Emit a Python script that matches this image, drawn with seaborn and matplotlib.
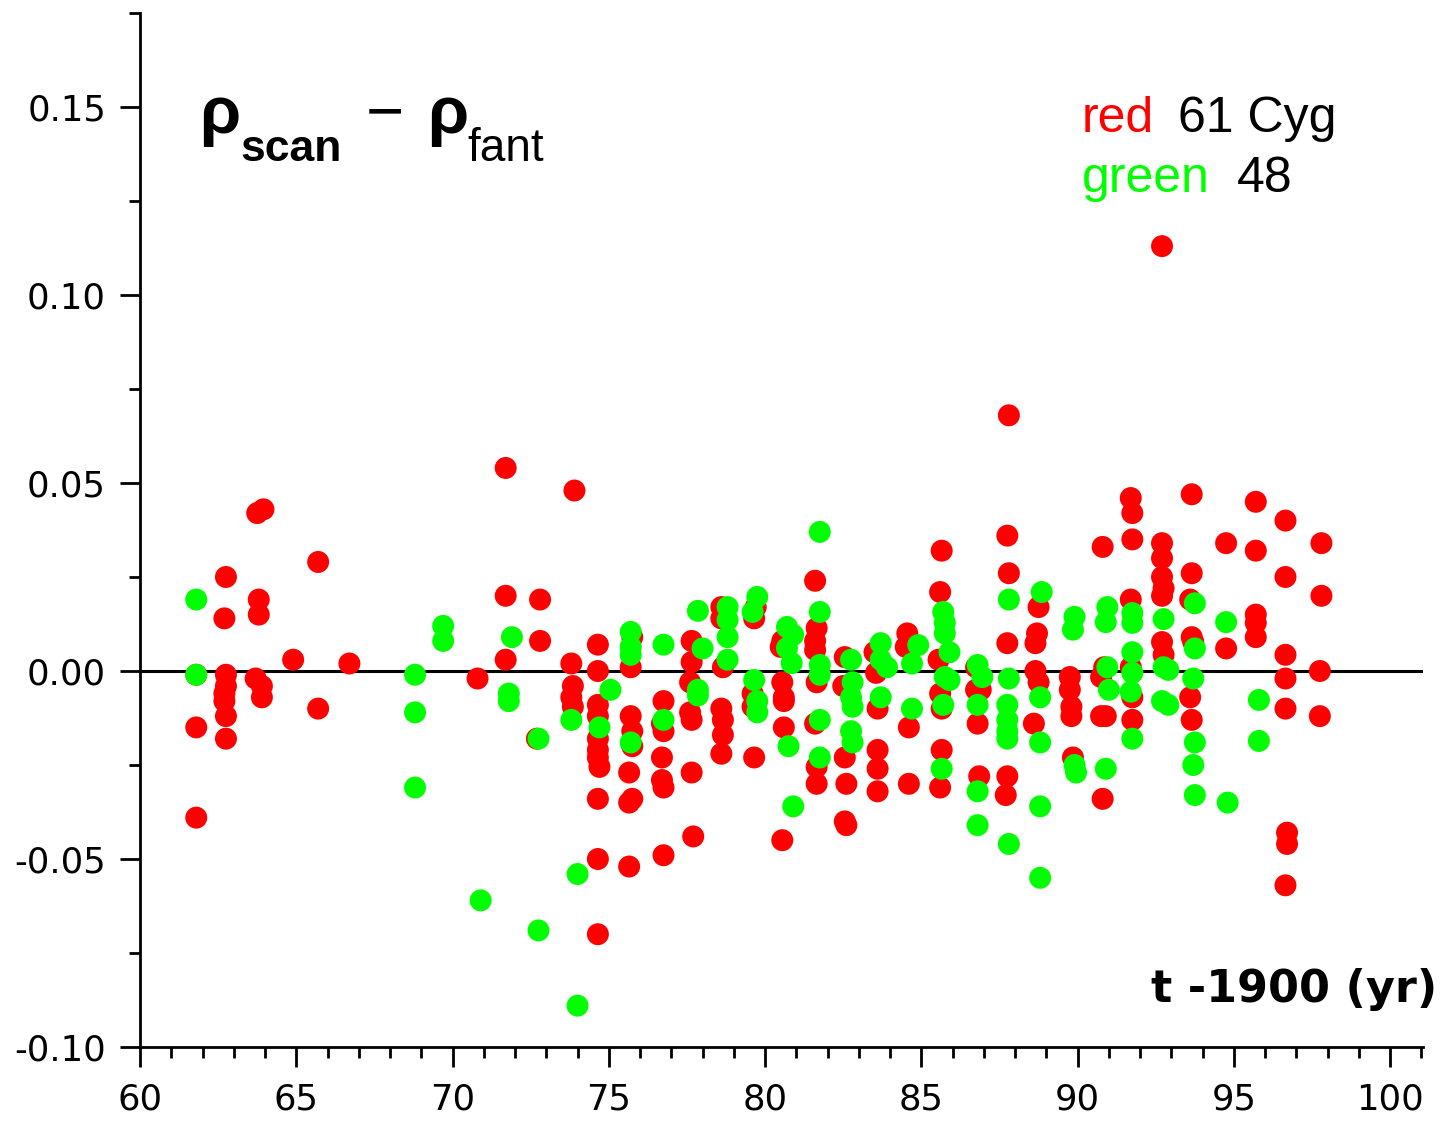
import numpy as np
import pandas as pd
import matplotlib
matplotlib.use("Agg")
import matplotlib.pyplot as plt
import seaborn as sns
from matplotlib.ticker import MultipleLocator, FormatStrFormatter

# ---------------- data ----------------
red_t = [61.8, 61.8, 61.8,
         62.75, 62.7, 62.75, 62.75, 62.7, 62.7, 62.75, 62.75,
         63.75, 63.95, 63.8, 63.8, 63.7, 63.9, 63.9,
         64.9, 65.7, 65.7, 66.7, 70.8,
         71.7, 71.7, 71.7,
         72.8, 72.8, 72.7,
         73.9, 73.8, 73.85, 73.8, 73.85,
         74.65, 74.65, 74.65, 74.65, 74.65, 74.65, 74.65, 74.7, 74.65, 74.65, 74.65,
         75.75, 75.7, 75.7, 75.75, 75.75, 75.65, 75.65, 75.75, 75.65,
         76.75, 76.7, 76.75, 76.7, 76.7, 76.75, 76.75,
         77.65, 77.65, 77.6, 77.6, 77.65, 77.65, 77.7,
         78.6, 78.6, 78.65, 78.6, 78.65, 78.65, 78.6,
         79.7, 79.65, 79.6, 79.6, 79.65,
         80.55, 80.5, 80.55, 80.6, 80.6, 80.6, 80.55,
         81.6, 81.65, 81.6, 81.6, 81.65, 81.6, 81.65, 81.65,
         82.55, 82.5, 82.55, 82.6, 82.55, 82.6,
         83.5, 83.55, 83.6, 83.6, 83.6, 83.6,
         84.55, 84.5, 84.6, 84.6,
         85.65, 85.6, 85.55, 85.6, 85.65, 85.65, 85.6,
         86.75, 86.75, 86.9, 86.8, 86.85,
         87.8, 87.75, 87.8, 87.75, 87.75, 87.7,
         88.75, 88.7, 88.65, 88.65, 88.75, 88.6,
         89.75, 89.75, 89.8, 89.8, 89.85,
         90.8, 90.85, 90.75, 90.75, 90.9, 90.8,
         91.7, 91.75, 91.75, 91.7, 91.7, 91.75, 91.75,
         92.7, 92.7, 92.7, 92.7, 92.75, 92.7, 92.7, 92.75,
         93.65, 93.65, 93.6, 93.65, 93.7, 93.6, 93.65,
         94.75, 94.75,
         95.7, 95.7, 95.7, 95.7, 95.7,
         96.65, 96.65, 96.65, 96.65, 96.65, 96.7, 96.7, 96.65,
         97.8, 97.8, 97.75, 97.75]
red_d = [-0.001, -0.015, -0.039,
         0.025, 0.014, -0.001, -0.004, -0.006, -0.008, -0.012, -0.018,
         0.042, 0.043, 0.019, 0.015, -0.002, -0.004, -0.007,
         0.003, 0.029, -0.010, 0.002, -0.002,
         0.054, 0.020, 0.003,
         0.019, 0.008, -0.018,
         0.048, 0.002, -0.004, -0.007, -0.0095,
         0.007, 0.000, -0.009, -0.012, -0.018, -0.021, -0.023, -0.0255, -0.034, -0.050, -0.070,
         0.009, 0.001, -0.012, -0.016, -0.020, -0.027, -0.035, -0.034, -0.052,
         -0.008, -0.014, -0.016, -0.023, -0.029, -0.031, -0.049,
         0.008, 0.0024, -0.003, -0.011, -0.013, -0.027, -0.044,
         0.017, 0.014, 0.001, -0.010, -0.013, -0.017, -0.022,
         0.017, 0.014, -0.006, -0.0095, -0.023,
         0.008, 0.0064, -0.003, -0.007, -0.008, -0.015, -0.045,
         0.024, 0.0114, 0.008, 0.0056, -0.003, -0.014, -0.0255, -0.030,
         0.0037, -0.004, -0.023, -0.030, -0.040, -0.041,
         0.005, -0.0005, -0.010, -0.021, -0.026, -0.032,
         0.010, 0.0064, -0.015, -0.030,
         0.032, 0.021, 0.003, -0.006, -0.010, -0.021, -0.031,
         0.001, -0.005, -0.005, -0.014, -0.028,
         0.068, 0.036, 0.026, 0.0074, -0.028, -0.033,
         0.017, 0.010, 0.0074, 0.000, -0.003, -0.014,
         -0.0016, -0.005, -0.0095, -0.012, -0.023,
         0.033, 0.001, -0.0016, -0.012, -0.012, -0.034,
         0.046, 0.042, 0.035, 0.019, 0.001, -0.007, -0.013,
         0.113, 0.034, 0.030, 0.025, 0.022, 0.020, 0.0077, 0.0043,
         0.047, 0.026, 0.019, 0.009, 0.0077, -0.007, -0.013,
         0.034, 0.006,
         0.045, 0.032, 0.015, 0.0128, 0.009,
         0.040, 0.025, 0.0043, -0.002, -0.010, -0.043, -0.046, -0.057,
         0.034, 0.020, 0.000, -0.012]

green_t = [61.8, 61.8,
           68.8, 68.8, 68.8,
           69.7, 69.7,
           70.9,
           71.9, 71.8, 71.8,
           72.75, 72.75,
           73.8,
           74.0, 74.0,
           74.7, 75.05,
           75.7, 75.7, 75.7, 75.7,
           76.75, 76.75,
           77.85, 78.0, 77.85, 77.85,
           78.8, 78.8, 78.8, 78.8,
           79.75, 79.6, 79.65, 79.75, 79.75,
           80.7, 80.9, 80.7, 80.85, 80.75, 80.9,
           81.75, 81.75, 81.75, 81.75, 81.75, 81.75,
           82.75, 82.8, 82.75, 82.8, 82.75, 82.8,
           83.7, 83.7, 83.9, 83.7,
           84.9, 84.7, 84.7,
           85.7, 85.75, 85.75, 85.9, 85.75, 85.9, 85.7, 85.65,
           86.8, 86.95, 86.8, 86.8, 86.8,
           87.8, 87.8, 87.75, 87.75, 87.75, 87.75, 87.8,
           88.85, 88.8, 88.8, 88.8, 88.8,
           89.9, 89.85, 89.9, 89.95,
           90.95, 90.9, 90.95, 91.0, 90.9,
           91.75, 91.75, 91.75, 91.75, 91.7, 91.75,
           92.75, 92.75, 92.9, 92.7, 92.9,
           93.75, 93.75, 93.7, 93.75, 93.7, 93.75,
           94.75, 94.8,
           95.8, 95.8]
green_d = [0.019, -0.001,
           -0.001, -0.011, -0.031,
           0.012, 0.008,
           -0.061,
           0.009, -0.006, -0.008,
           -0.018, -0.069,
           -0.013,
           -0.054, -0.089,
           -0.015, -0.005,
           0.0104, 0.0064, 0.0043, -0.019,
           0.007, -0.013,
           0.016, 0.006, -0.005, -0.0065,
           0.017, 0.0136, 0.009, 0.003,
           0.0197, 0.0157, -0.0024, -0.008, -0.011,
           0.0117, 0.0096, 0.0061, 0.0021, -0.020, -0.036,
           0.037, 0.0157, 0.0016, -0.001, -0.013, -0.023,
           0.003, -0.003, -0.007, -0.0095, -0.016, -0.019,
           0.0074, 0.003, 0.001, -0.007,
           0.0069, 0.002, -0.010,
           0.0157, 0.0128, 0.010, 0.005, -0.0016, -0.0024, -0.009, -0.026,
           0.0016, -0.0016, -0.009, -0.032, -0.041,
           0.019, -0.002, -0.009, -0.013, -0.016, -0.018, -0.046,
           0.021, -0.007, -0.019, -0.036, -0.055,
           0.0144, 0.011, -0.025, -0.027,
           0.017, 0.013, 0.001, -0.005, -0.026,
           0.0154, 0.0128, 0.005, -0.0005, -0.0055, -0.018,
           0.0138, 0.001, 0.0003, -0.008, -0.009,
           0.018, 0.006, -0.002, -0.019, -0.025, -0.033,
           0.013, -0.035,
           -0.0077, -0.0186]

series_names = ["61 Cyg", "48"]
series_colors = ["#ff0000", "#00ff00"]
x_ticks = [60, 65, 70, 75, 80, 85, 90, 95, 100]
y_ticks = [-0.10, -0.05, 0.00, 0.05, 0.10, 0.15]

# ---------------- figure ----------------
sns.set_style("ticks")
plt.rcParams["font.family"] = ["DejaVu Sans"]
plt.rcParams["text.color"] = "black"

W, H = 1445, 1121
fig = plt.figure(figsize=(W / 100, H / 100), dpi=100)
fig.patch.set_facecolor("white")
ax = fig.add_axes([140 / W, (H - 1047) / H, (1423 - 140) / W, (1047 - 13) / H])
ax.set_facecolor("white")

df = pd.DataFrame({
    "t": red_t + green_t,
    "d": red_d + green_d,
    "star": [series_names[0]] * len(red_t) + [series_names[1]] * len(green_t),
})

ax.axhline(0, color="black", lw=2.2, zorder=2)
sns.scatterplot(data=df, x="t", y="d", hue="star", hue_order=series_names,
                palette=dict(zip(series_names, series_colors)),
                s=250, linewidth=0, edgecolor="none", alpha=1,
                legend=False, ax=ax, zorder=3)

ax.set_xlim(60, 101.05)
ax.set_ylim(-0.10, 0.175)
ax.set_xticks(x_ticks)
ax.set_yticks(y_ticks)
ax.xaxis.set_minor_locator(MultipleLocator(1))
ax.yaxis.set_minor_locator(MultipleLocator(0.025))
ax.xaxis.set_major_formatter(FormatStrFormatter("%d"))
ax.yaxis.set_major_formatter(FormatStrFormatter("%.2f"))
ax.set_xlabel("")
ax.set_ylabel("")

for side in ["top", "right"]:
    ax.spines[side].set_visible(False)
for side in ["left", "bottom"]:
    ax.spines[side].set_linewidth(2.0)
    ax.spines[side].set_color("black")

ax.tick_params(axis="both", which="major", direction="out", length=14.4,
               width=2.0, color="black", labelsize=25.5, labelcolor="black")
ax.tick_params(axis="both", which="minor", direction="out", length=8,
               width=2.0, color="black")
ax.tick_params(axis="x", which="major", pad=11)
ax.tick_params(axis="y", which="major", pad=10)


def fp(x, y):
    return (x / W, 1 - y / H)


LS = "Liberation Sans"
# title-like label: rho_scan - rho_fant
fig.text(*fp(199, 133), "ρ", fontsize=48, fontweight="bold", family=LS,
         color="black", ha="left", va="baseline")
fig.text(*fp(240, 161), "scan", fontsize=32, fontweight="bold", family=LS,
         color="black", ha="left", va="baseline")
fig.text(*fp(366, 132), "\u2212", fontsize=47, family=LS,
         color="black", ha="left", va="baseline")
fig.text(*fp(427, 133), "ρ", fontsize=48, fontweight="bold", family=LS,
         color="black", ha="left", va="baseline")
fig.text(*fp(467, 161), "fant", fontsize=33, family=LS,
         color="black", ha="left", va="baseline")

# color legend
fig.text(*fp(1082, 132), "red", fontsize=36, color=series_colors[0],
         family=LS, ha="left", va="baseline")
fig.text(*fp(1178, 132), series_names[0], fontsize=36, color="black",
         family=LS, ha="left", va="baseline")
fig.text(*fp(1082, 192), "green", fontsize=36, color=series_colors[1],
         family=LS, ha="left", va="baseline")
fig.text(*fp(1237, 192), series_names[1], fontsize=36, color="black",
         family=LS, ha="left", va="baseline")

# x axis label
fig.text(*fp(1437, 1002), "t -1900 (yr)", fontsize=32, fontweight="bold",
         color="black", ha="right", va="baseline")

fig.savefig("out.png", dpi=100)
